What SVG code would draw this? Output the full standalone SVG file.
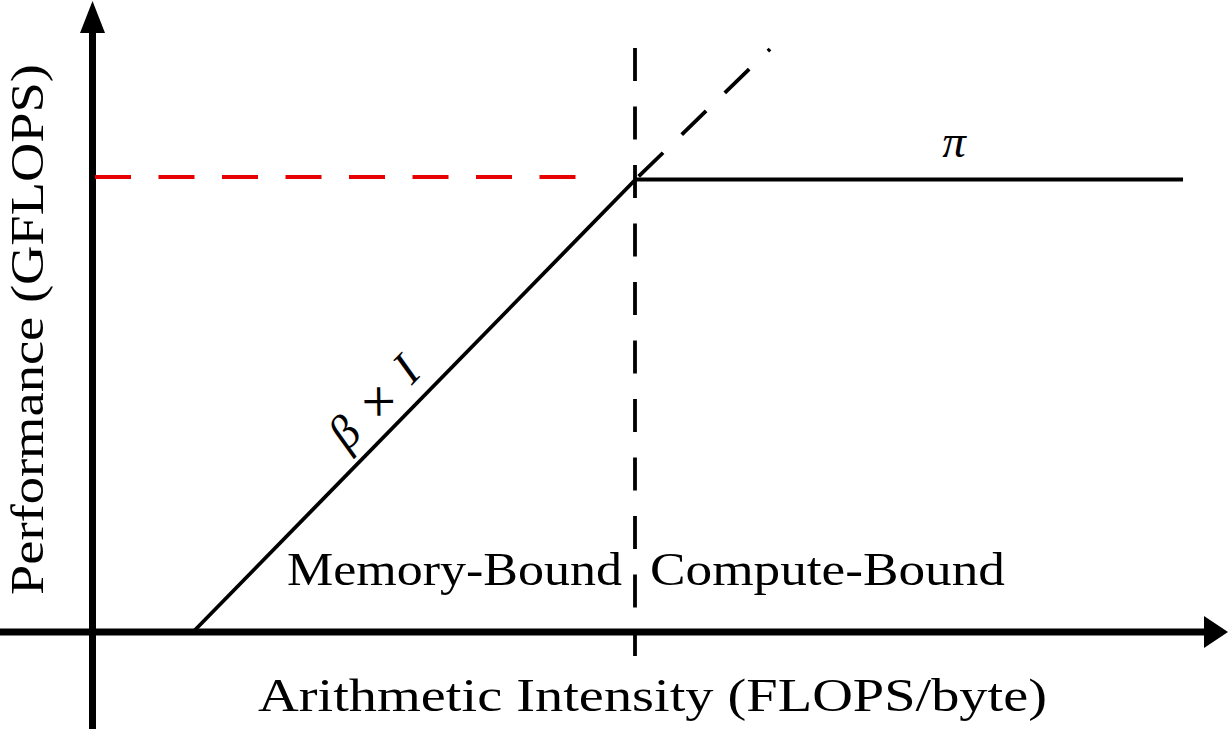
<svg xmlns="http://www.w3.org/2000/svg" width="1228" height="729" viewBox="0 0 1228 729">
<style>
  .lbl { font-family: "Liberation Serif", "DejaVu Serif", serif; font-size: 47px; fill: #000; }
  .axis { stroke: #000; stroke-width: 7; fill: none; }
  .thin { stroke: #000; stroke-width: 3.8; fill: none; }
  .red { stroke: #e60000; stroke-width: 4.2; fill: none; stroke-dasharray: 36 27.5; }
  .vdash { stroke: #000; stroke-width: 3.8; fill: none; stroke-dasharray: 33 25.5; }
  .ddash { stroke: #000; stroke-width: 3.8; fill: none; stroke-dasharray: 34 26; stroke-dashoffset: 56.3; }
</style>
<rect width="1228" height="729" fill="#fff"/>
<g id="axes">
  <line class="axis" x1="92.5" y1="729" x2="92.5" y2="30"/>
  <polygon points="92.5,1 80,33 105,33" fill="#000"/>
  <line class="axis" x1="0" y1="632" x2="1206" y2="632"/>
  <polygon points="1228,632 1204,616 1204,648" fill="#000"/>
</g>
<g id="connectors">
  <line class="red" x1="95" y1="177" x2="600" y2="177"/>
  <line class="vdash" x1="635" y1="48" x2="635" y2="656"/>
  <line class="thin" x1="194" y1="631" x2="636" y2="179"/>
  <line class="ddash" x1="636" y1="179" x2="770" y2="49"/>
  <line class="thin" x1="634" y1="179.5" x2="1183" y2="179.5"/>
</g>
<g id="labels">
  <text id="xlabel" class="lbl" x="258" y="711" textLength="789" lengthAdjust="spacingAndGlyphs">Arithmetic Intensity (FLOPS/byte)</text>
  <text id="ylabel" class="lbl" transform="translate(43,595) rotate(-90)" x="0" y="0" textLength="531" lengthAdjust="spacingAndGlyphs">Performance (GFLOPS)</text>
  <text id="mem" class="lbl" x="287" y="585" textLength="335" lengthAdjust="spacingAndGlyphs">Memory-Bound</text>
  <text id="comp" class="lbl" x="650" y="585" textLength="355" lengthAdjust="spacingAndGlyphs">Compute-Bound</text>
  <text id="pi" class="lbl" x="954" y="157" text-anchor="middle" font-style="italic">π</text>
  <text id="beta" class="lbl" transform="translate(385,413) rotate(-45.7)" x="0" y="0" text-anchor="middle" textLength="108" lengthAdjust="spacing"><tspan font-style="italic">β</tspan><tspan font-family="DejaVu Serif, serif" font-size="40" font-weight="200">×</tspan><tspan font-style="italic">I</tspan></text>
</g>
</svg>
